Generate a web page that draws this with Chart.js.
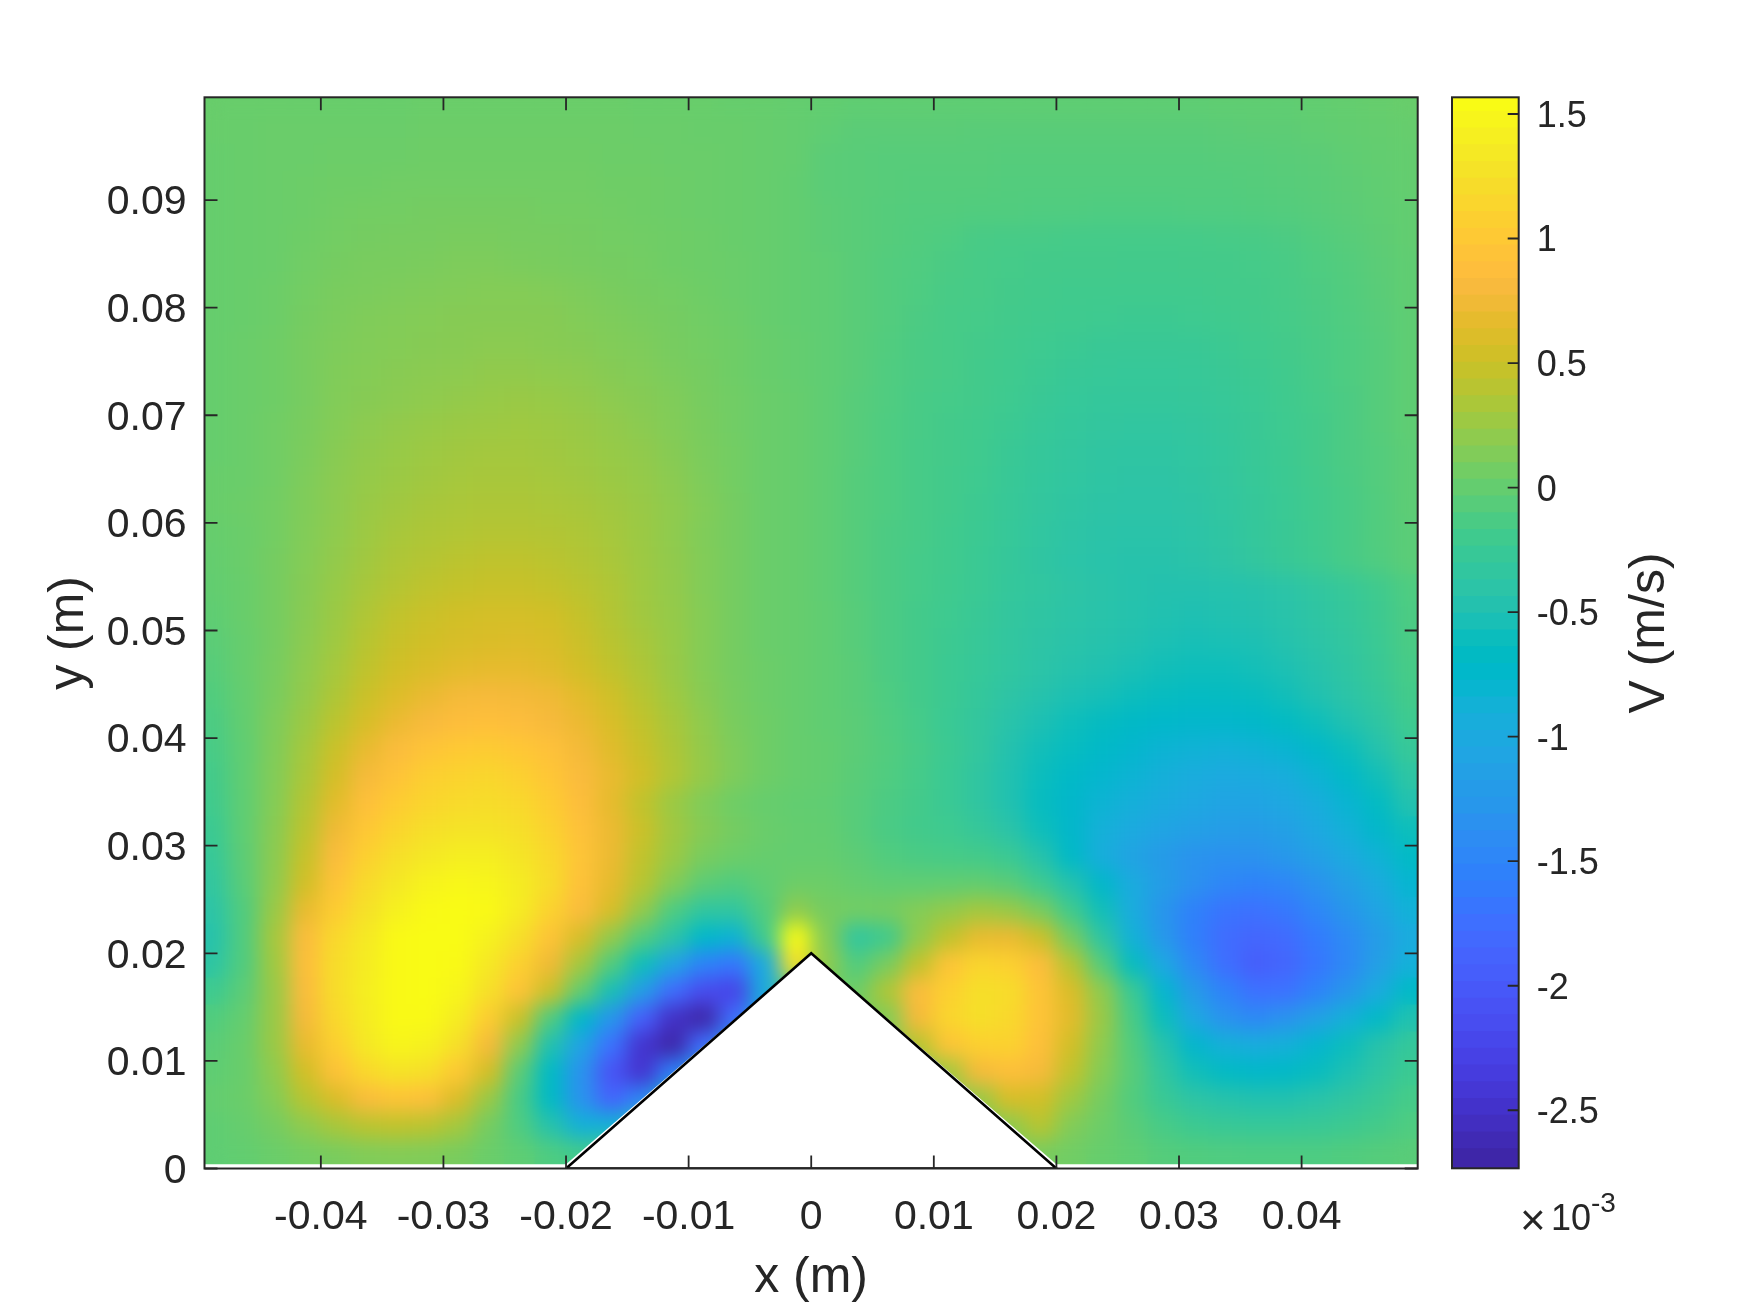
<!DOCTYPE html>
<html>
<head>
<meta charset="utf-8">
<title>V (m/s)</title>
<script src="https://cdn.jsdelivr.net/npm/chart.js@4"></script>
<style>
  html, body { margin: 0; padding: 0; background: #fff; }
  canvas { position: absolute; left: 0; top: 0; }
</style>
</head>
<body>
<canvas id="fieldChart" width="1750" height="1313"></canvas>
<canvas id="barChart" width="1750" height="1313"></canvas>
<script>
const xTicks = [-0.04, -0.03, -0.02, -0.01, 0, 0.01, 0.02, 0.03, 0.04];
const yTicks = [0, 0.01, 0.02, 0.03, 0.04, 0.05, 0.06, 0.07, 0.08, 0.09];
const barTicks = [-2.5, -2, -1.5, -1, -0.5, 0, 0.5, 1, 1.5];

// cell centres of the field, metres
const xCells = [-0.04875, -0.04625, -0.04375, -0.04125, -0.03875, -0.03625, -0.03375, -0.03125, -0.02875, -0.02625,
    -0.02375, -0.02125, -0.01875, -0.01625, -0.01375, -0.01125, -0.00875, -0.00625, -0.00375, -0.00125,
    0.00125, 0.00375, 0.00625, 0.00875, 0.01125, 0.01375, 0.01625, 0.01875, 0.02125, 0.02375,
    0.02625, 0.02875, 0.03125, 0.03375, 0.03625, 0.03875, 0.04125, 0.04375, 0.04625, 0.04875];
const yCells = [0.09875, 0.09625, 0.09375, 0.09125, 0.08875, 0.08625, 0.08375, 0.08125, 0.07875, 0.07625,
    0.07375, 0.07125, 0.06875, 0.06625, 0.06375, 0.06125, 0.05875, 0.05625, 0.05375, 0.05125,
    0.04875, 0.04625, 0.04375, 0.04125, 0.03875, 0.03625, 0.03375, 0.03125, 0.02875, 0.02625,
    0.02375, 0.02125, 0.01875, 0.01625, 0.01375, 0.01125, 0.00875, 0.00625, 0.00375, 0.00125];

// V, in 1e-5 m/s, one row per yCells entry
const vRows = [
    [2,2,2,2,2,2,2,3,3,3,3,3,3,3,2,2,2,1,1,0,-1,-2,-2,-2,-3,-3,-3,-3,-3,-3,-3,-3,-3,-2,-2,-2,-1,0,1,2],
    [2,2,3,3,3,3,3,4,4,4,4,4,4,4,3,3,2,2,1,0,-3,-5,-5,-5,-5,-6,-6,-6,-6,-6,-6,-6,-6,-5,-4,-4,-2,-1,0,1],
    [1,2,3,3,4,4,4,5,5,5,5,5,5,4,4,3,3,2,1,0,-5,-6,-7,-7,-7,-7,-8,-8,-8,-8,-8,-8,-8,-7,-7,-6,-5,-3,-1,0],
    [1,2,3,4,5,5,6,6,6,6,6,6,6,5,5,4,3,2,1,-1,-5,-6,-7,-8,-8,-8,-9,-9,-9,-9,-9,-9,-9,-9,-8,-7,-6,-4,-2,0],
    [1,2,3,4,6,7,7,8,8,8,8,7,7,6,5,4,3,2,1,-1,-4,-6,-8,-9,-9,-10,-10,-11,-11,-12,-12,-12,-11,-11,-10,-9,-7,-5,-3,-1],
    [1,2,3,5,7,8,9,9,10,10,9,9,8,7,6,5,4,2,1,-1,-4,-6,-8,-10,-12,-15,-16,-16,-17,-17,-17,-17,-17,-16,-15,-13,-10,-7,-4,-1],
    [1,2,3,6,8,10,10,11,12,12,11,10,9,8,7,5,4,3,1,-1,-3,-6,-9,-11,-14,-16,-17,-18,-18,-18,-19,-19,-18,-18,-17,-15,-12,-9,-5,-2],
    [1,2,4,7,10,11,12,13,14,15,15,14,12,10,8,7,5,3,1,-1,-3,-6,-9,-12,-15,-16,-18,-19,-20,-20,-20,-20,-20,-19,-18,-16,-13,-10,-6,-2],
    [1,2,4,8,11,13,14,15,16,16,16,16,14,12,10,8,6,4,1,-1,-3,-6,-9,-13,-16,-17,-19,-20,-21,-22,-23,-23,-22,-21,-19,-17,-14,-11,-7,-3],
    [1,3,5,9,12,14,15,16,17,18,18,17,16,14,12,9,7,5,2,0,-3,-6,-10,-14,-16,-18,-20,-22,-24,-26,-26,-26,-26,-24,-21,-18,-15,-12,-8,-3],
    [1,3,5,9,13,15,17,18,19,21,21,20,19,16,14,11,8,5,2,0,-3,-6,-11,-14,-16,-19,-21,-24,-27,-28,-29,-29,-28,-26,-23,-20,-16,-12,-8,-3],
    [1,3,5,9,14,16,18,20,22,24,25,24,22,19,16,13,9,6,3,1,-3,-7,-11,-15,-17,-19,-22,-26,-29,-31,-31,-31,-30,-28,-25,-21,-17,-13,-8,-3],
    [1,3,6,10,15,19,22,24,26,27,28,27,25,22,18,14,10,6,3,1,-3,-7,-12,-15,-18,-20,-24,-28,-31,-33,-35,-35,-33,-30,-26,-22,-18,-13,-8,-3],
    [1,3,6,11,17,21,24,27,29,30,30,29,27,24,21,16,11,7,3,1,-3,-7,-12,-16,-18,-21,-26,-30,-33,-36,-37,-37,-35,-32,-27,-23,-18,-13,-9,-4],
    [2,3,6,12,18,23,26,29,31,32,32,31,29,26,23,18,12,7,3,1,-3,-8,-12,-16,-19,-22,-27,-32,-35,-38,-39,-39,-37,-33,-28,-24,-19,-14,-9,-4],
    [2,4,7,13,19,25,29,32,34,35,35,34,32,29,25,20,14,8,3,1,-3,-8,-12,-16,-19,-23,-28,-33,-37,-40,-41,-41,-39,-35,-30,-25,-20,-15,-10,-4],
    [1,3,7,14,20,27,32,35,37,39,39,38,35,31,26,20,13,8,3,1,-3,-8,-13,-16,-20,-24,-29,-35,-39,-42,-43,-43,-41,-37,-31,-26,-21,-16,-10,-5],
    [0,3,8,15,22,29,35,39,42,44,44,42,38,33,27,21,14,8,3,1,-3,-8,-13,-17,-20,-25,-30,-36,-41,-44,-45,-45,-43,-39,-33,-27,-22,-16,-11,-5],
    [-1,2,8,16,24,32,39,44,47,49,49,47,42,36,28,22,14,8,3,1,-3,-8,-13,-17,-21,-25,-31,-35,-39,-43,-46,-48,-48,-47,-45,-41,-35,-28,-21,-12],
    [-3,2,8,17,26,36,45,50,54,56,56,54,47,38,29,23,15,8,3,1,-2,-7,-13,-18,-22,-27,-33,-37,-41,-44,-47,-50,-51,-50,-48,-44,-38,-31,-23,-13],
    [-5,1,8,18,28,40,49,54,58,60,61,59,51,41,32,24,15,8,3,1,-2,-7,-13,-18,-23,-28,-34,-39,-43,-46,-49,-53,-55,-54,-52,-47,-41,-34,-25,-14],
    [-7,1,9,20,31,44,54,60,65,68,68,64,55,45,35,25,15,8,4,1,-2,-6,-13,-18,-24,-29,-35,-41,-46,-50,-54,-58,-60,-60,-57,-52,-45,-37,-27,-16],
    [-10,0,10,22,35,50,62,71,78,80,78,75,65,53,40,28,17,9,4,1,-2,-6,-12,-18,-24,-31,-39,-46,-52,-56,-61,-65,-67,-66,-64,-58,-50,-41,-31,-18],
    [-13,-1,12,26,42,58,72,82,88,90,87,81,72,59,45,32,20,10,5,1,-2,-5,-11,-17,-25,-33,-44,-52,-60,-66,-71,-75,-77,-77,-74,-68,-60,-50,-38,-22],
    [-15,-2,13,30,50,70,85,96,102,104,100,92,78,64,49,35,22,12,5,1,-1,-5,-10,-16,-24,-33,-48,-58,-65,-72,-79,-85,-88,-90,-88,-83,-74,-62,-47,-28],
    [-18,-2,14,33,57,80,95,108,113,116,110,98,84,70,54,37,23,12,5,1,-1,-6,-11,-17,-25,-36,-50,-62,-72,-80,-86,-93,-98,-102,-100,-96,-86,-73,-58,-38],
    [-20,-3,15,38,65,90,105,115,120,122,118,105,88,68,45,26,13,5,1,-1,-2,-7,-13,-18,-25,-36,-50,-65,-76,-86,-93,-99,-105,-110,-110,-105,-96,-83,-68,-48],
    [-24,-3,17,42,75,100,115,125,130,130,125,112,92,72,50,29,16,8,3,0,-1,-7,-14,-19,-22,-30,-42,-60,-76,-92,-102,-110,-116,-121,-122,-116,-103,-90,-76,-60],
    [-28,-4,18,48,85,110,125,135,142,142,132,118,96,72,45,26,10,4,1,0,0,-4,-10,-14,-16,-18,-25,-45,-72,-96,-112,-125,-135,-138,-136,-128,-116,-102,-88,-70],
    [-34,-6,20,55,95,120,135,148,152,150,140,122,92,68,40,15,-4,-10,-3,4,4,0,-3,-3,-2,-1,-6,-22,-48,-76,-100,-120,-138,-150,-155,-150,-135,-118,-100,-82],
    [-40,-10,25,70,105,128,145,155,158,155,138,112,85,58,22,-12,-35,-35,-10,20,8,7,8,15,22,30,25,10,-20,-58,-98,-132,-158,-172,-176,-168,-150,-130,-110,-90],
    [-45,-10,30,85,118,136,155,160,158,145,125,95,58,22,-10,-40,-75,-85,-20,158,15,-35,-20,20,45,70,72,52,8,-38,-90,-128,-160,-180,-188,-182,-165,-145,-122,-100],
    [-38,-10,28,88,122,140,155,160,155,135,110,75,30,-10,-60,-110,-155,-170,-100,125,20,-10,10,45,95,115,110,88,40,-8,-65,-105,-148,-178,-198,-188,-170,-148,-118,-92],
    [-22,-5,25,85,122,142,155,160,150,125,95,50,0,-55,-120,-180,-220,-230,-100,0,5,5,35,85,110,125,122,95,60,20,-25,-80,-125,-155,-176,-175,-155,-130,-100,-72],
    [-10,0,25,80,118,140,155,155,140,105,50,-10,-75,-130,-195,-255,-275,-180,-100,-50,5,10,15,80,115,125,118,95,65,25,-15,-62,-105,-135,-148,-135,-115,-92,-72,-50],
    [-5,2,25,70,108,135,150,145,125,80,20,-50,-110,-175,-250,-275,-180,-120,-60,0,5,10,15,40,95,110,112,90,55,20,-10,-45,-78,-92,-97,-92,-80,-62,-45,-30],
    [-3,2,20,55,92,118,130,125,100,55,-5,-70,-135,-210,-250,-160,-100,-50,0,0,0,5,10,15,30,80,90,80,45,15,-7,-35,-58,-69,-74,-72,-64,-52,-38,-24],
    [0,3,15,40,60,85,95,90,60,25,-15,-70,-135,-190,-150,-60,-30,0,0,0,0,0,5,10,15,25,58,55,28,8,-10,-26,-39,-45,-49,-49,-44,-36,-27,-17],
    [-3,1,8,20,32,42,45,42,30,8,-12,-45,-90,-90,-50,-10,0,0,0,0,0,0,0,5,5,10,20,40,14,4,-6,-16,-23,-27,-29,-29,-27,-23,-18,-12],
    [-3,-1,3,7,10,13,14,13,10,3,-3,-12,-20,-15,-5,0,0,0,0,0,0,0,0,0,0,5,8,10,6,1,-3,-8,-10,-11,-12,-12,-12,-10,-8,-6]
];

// the obstacle and the thin unfilled strip along the floor
const wedgeX = [-0.02, 0, 0.02, -0.02];
const wedgeY = [0, 0.02, 0, 0];
const voidX = [-0.0495, -0.02, 0, 0.02, 0.0495];
const voidY = [0.0004, 0.0004, 0.02, 0.0004, 0.0004];

const xRange = [-0.04949, 0.04947];
const yRange = [0, 0.09955];
const vRange = [-2.733, 1.567];

const parula = [
    [.2422,.1504,.6603],[.2504,.1650,.7076],[.2578,.1818,.7511],[.2647,.1978,.7952],[.2706,.2147,.8364],[.2751,.2342,.8710],
    [.2783,.2559,.8991],[.2803,.2782,.9221],[.2813,.3006,.9414],[.2810,.3228,.9579],[.2795,.3447,.9717],[.2760,.3667,.9829],
    [.2699,.3892,.9906],[.2602,.4123,.9952],[.2440,.4358,.9988],[.2206,.4603,.9973],[.1963,.4847,.9892],[.1834,.5074,.9798],
    [.1786,.5289,.9682],[.1764,.5499,.9520],[.1687,.5703,.9359],[.1540,.5902,.9218],[.1460,.6091,.9079],[.1380,.6276,.8973],
    [.1248,.6459,.8883],[.1113,.6635,.8763],[.0952,.6798,.8598],[.0689,.6948,.8394],[.0297,.7082,.8163],[.0036,.7203,.7917],
    [.0067,.7312,.7660],[.0433,.7411,.7394],[.0964,.7500,.7120],[.1408,.7584,.6842],[.1717,.7670,.6554],[.1938,.7758,.6251],
    [.2161,.7843,.5923],[.2470,.7918,.5567],[.2906,.7973,.5188],[.3406,.8008,.4789],[.3909,.8029,.4354],[.4456,.8024,.3909],
    [.5044,.7993,.3480],[.5616,.7942,.3045],[.6174,.7876,.2612],[.6720,.7793,.2227],[.7242,.7698,.1910],[.7738,.7598,.1646],
    [.8203,.7498,.1535],[.8634,.7406,.1596],[.9035,.7330,.1774],[.9393,.7288,.2100],[.9728,.7298,.2394],[.9956,.7434,.2371],
    [.9970,.7659,.2199],[.9952,.7893,.2028],[.9892,.8136,.1885],[.9786,.8386,.1766],[.9676,.8639,.1643],[.9610,.8890,.1537],
    [.9597,.9135,.1423],[.9628,.9373,.1265],[.9691,.9606,.1064],[.9769,.9839,.0805]
];

const ink = '#262626';

function colorFor(v) {
    const t = Math.min(1, Math.max(0, (v - vRange[0]) / (vRange[1] - vRange[0]))) * (parula.length - 1);
    const i = Math.min(parula.length - 2, Math.floor(t));
    const c = parula[i].map((p, k) => Math.round(255 * (p + (parula[i + 1][k] - p) * (t - i))));
    return `rgb(${c[0]},${c[1]},${c[2]})`;
}

function drawFrame(chart, sides) {
    const { ctx, chartArea: a } = chart;
    ctx.save();
    ctx.strokeStyle = ink;
    ctx.lineWidth = 2;
    ctx.strokeRect(a.left, a.top, a.right - a.left, a.bottom - a.top);
    ctx.lineWidth = 1.8;
    ctx.beginPath();
    sides.forEach(s => {
        s.values.forEach(v => {
            const p = chart.scales[s.scale].getPixelForValue(v);
            if (s.scale === 'x') {
                ctx.moveTo(p, a.bottom); ctx.lineTo(p, a.bottom - s.len);
                ctx.moveTo(p, a.top); ctx.lineTo(p, a.top + s.len);
            } else {
                if (s.left) { ctx.moveTo(a.left, p); ctx.lineTo(a.left + s.len, p); }
                ctx.moveTo(a.right, p); ctx.lineTo(a.right - s.len, p);
            }
        });
    });
    ctx.stroke();
    ctx.restore();
}

// smooths the field cells once they are on the canvas, before the wedge goes over them
const smoothCells = {
    id: 'smoothCells',
    afterDatasetDraw(chart, args) {
        if (args.index !== 0) return;
        const { ctx, canvas, chartArea: a } = chart;
        const copy = document.createElement('canvas');
        copy.width = canvas.width;
        copy.height = canvas.height;
        copy.getContext('2d').drawImage(canvas, 0, 0);
        ctx.save();
        ctx.beginPath();
        ctx.rect(a.left, a.top, a.right - a.left, a.bottom - a.top);
        ctx.clip();
        ctx.filter = 'blur(10px)';
        ctx.drawImage(copy, 0, 0, canvas.width, canvas.height, 0, 0, chart.width, chart.height);
        ctx.restore();
    }
};

const fieldFrame = {
    id: 'fieldFrame',
    afterDatasetsDraw(chart) {
        drawFrame(chart, [
            { scale: 'x', values: xTicks, len: 13 },
            { scale: 'y', values: yTicks, len: 13, left: true }
        ]);
    }
};

const barDecor = {
    id: 'barDecor',
    afterDatasetsDraw(chart) {
        drawFrame(chart, [{ scale: 'y', values: barTicks, len: 11 }]);
        const ctx = chart.ctx;
        ctx.save();
        ctx.fillStyle = ink;
        ctx.textBaseline = 'alphabetic';
        ctx.font = '44px "Liberation Sans"';
        ctx.fillText('\u00d7', 1520, 1235);
        ctx.font = '36px "Liberation Sans"';
        ctx.fillText('10', 1551, 1230);
        ctx.font = '28px "Liberation Sans"';
        ctx.fillText('-3', 1591, 1212);
        ctx.translate(1650, 633);
        ctx.rotate(-Math.PI / 2);
        ctx.textAlign = 'center';
        ctx.textBaseline = 'middle';
        ctx.font = '50px "Liberation Sans"';
        ctx.fillText('V (m/s)', 0, 0);
        ctx.restore();
    }
};

document.addEventListener('DOMContentLoaded', function () {
    Chart.defaults.font.family = '"Liberation Sans"';
    Chart.defaults.color = ink;
    Chart.defaults.animation = false;

    const cells = [];
    vRows.forEach((row, j) => {
        row.forEach((v, i) => {
            cells.push({ x: xCells[i], y: yCells[j], v: v / 100 });
        });
    });

    new Chart(document.getElementById('fieldChart'), {
        type: 'scatter',
        data: {
            datasets: [{
                label: 'V',
                order: 3,
                data: cells,
                pointStyle: 'rect',
                borderWidth: 0,
                pointRadius: ctx => {
                    const sx = ctx.chart.scales.x;
                    return Math.abs(sx.getPixelForValue(0.0025) - sx.getPixelForValue(0)) * Math.SQRT1_2 + 1;
                },
                pointBackgroundColor: ctx => colorFor(ctx.raw.v)
            }, {
                type: 'line',
                label: 'void',
                order: 2,
                data: voidX.map((x, i) => ({ x: x, y: voidY[i] })),
                borderWidth: 0,
                borderColor: '#fff',
                pointRadius: 0,
                tension: 0,
                fill: { target: 'origin', above: '#fff', below: '#fff' }
            }, {
                type: 'line',
                label: 'wedge',
                order: 1,
                data: wedgeX.map((x, i) => ({ x: x, y: wedgeY[i] })),
                borderColor: '#000',
                borderWidth: 2.6,
                pointRadius: 0,
                tension: 0,
                fill: false
            }]
        },
        options: {
            responsive: false,
            devicePixelRatio: 1,
            events: [],
            layout: { padding: { left: 39, right: 332.3, top: 97.3, bottom: 0 } },
            plugins: { legend: { display: false }, tooltip: { enabled: false } },
            scales: {
                x: {
                    type: 'linear',
                    min: xRange[0],
                    max: xRange[1],
                    grid: { display: false, drawTicks: false },
                    border: { display: false },
                    afterBuildTicks: s => { s.ticks = xTicks.map(v => ({ value: v })); },
                    afterFit: s => { s.height = 144.5; },
                    ticks: { autoSkip: false, maxRotation: 0, padding: 25, font: { size: 41 }, callback: v => String(v) },
                    title: { display: true, text: 'x (m)', font: { size: 50 }, padding: { top: 0, bottom: 5 } }
                },
                y: {
                    type: 'linear',
                    min: yRange[0],
                    max: yRange[1],
                    grid: { display: false, drawTicks: false },
                    border: { display: false },
                    afterBuildTicks: s => { s.ticks = yTicks.map(v => ({ value: v })); },
                    afterFit: s => { s.width = 165.5; },
                    ticks: { autoSkip: false, padding: 18, labelOffset: 3, font: { size: 41 }, callback: v => String(v) },
                    title: { display: true, text: 'y (m)', font: { size: 50 }, padding: 0 }
                }
            }
        },
        plugins: [smoothCells, fieldFrame]
    });

    // colour bar, one floating bar per colormap entry
    const step = (vRange[1] - vRange[0]) / parula.length;
    const barSets = parula.map((c, k) => ({
        data: [[vRange[0] + k * step, vRange[0] + (k + 1) * step + 0.012]],
        backgroundColor: `rgb(${c.map(p => Math.round(p * 255)).join(',')})`,
        borderWidth: 0,
        barPercentage: 1,
        categoryPercentage: 1
    }));

    new Chart(document.getElementById('barChart'), {
        type: 'bar',
        data: { labels: ['V'], datasets: barSets },
        options: {
            responsive: false,
            devicePixelRatio: 1,
            events: [],
            layout: { padding: { left: 1452, right: 100, top: 97.3, bottom: 144.7 } },
            plugins: { legend: { display: false }, tooltip: { enabled: false } },
            scales: {
                x: { display: false, stacked: true },
                y: {
                    position: 'right',
                    min: vRange[0],
                    max: vRange[1],
                    grid: { display: false, drawTicks: false },
                    border: { display: false },
                    afterBuildTicks: s => { s.ticks = barTicks.map(v => ({ value: v })); },
                    afterFit: s => { s.width = 131.3; },
                    ticks: { autoSkip: false, padding: 18, labelOffset: 3, font: { size: 36 }, callback: v => String(v) }
                }
            }
        },
        plugins: [barDecor]
    });
});
</script>
</body>
</html>
